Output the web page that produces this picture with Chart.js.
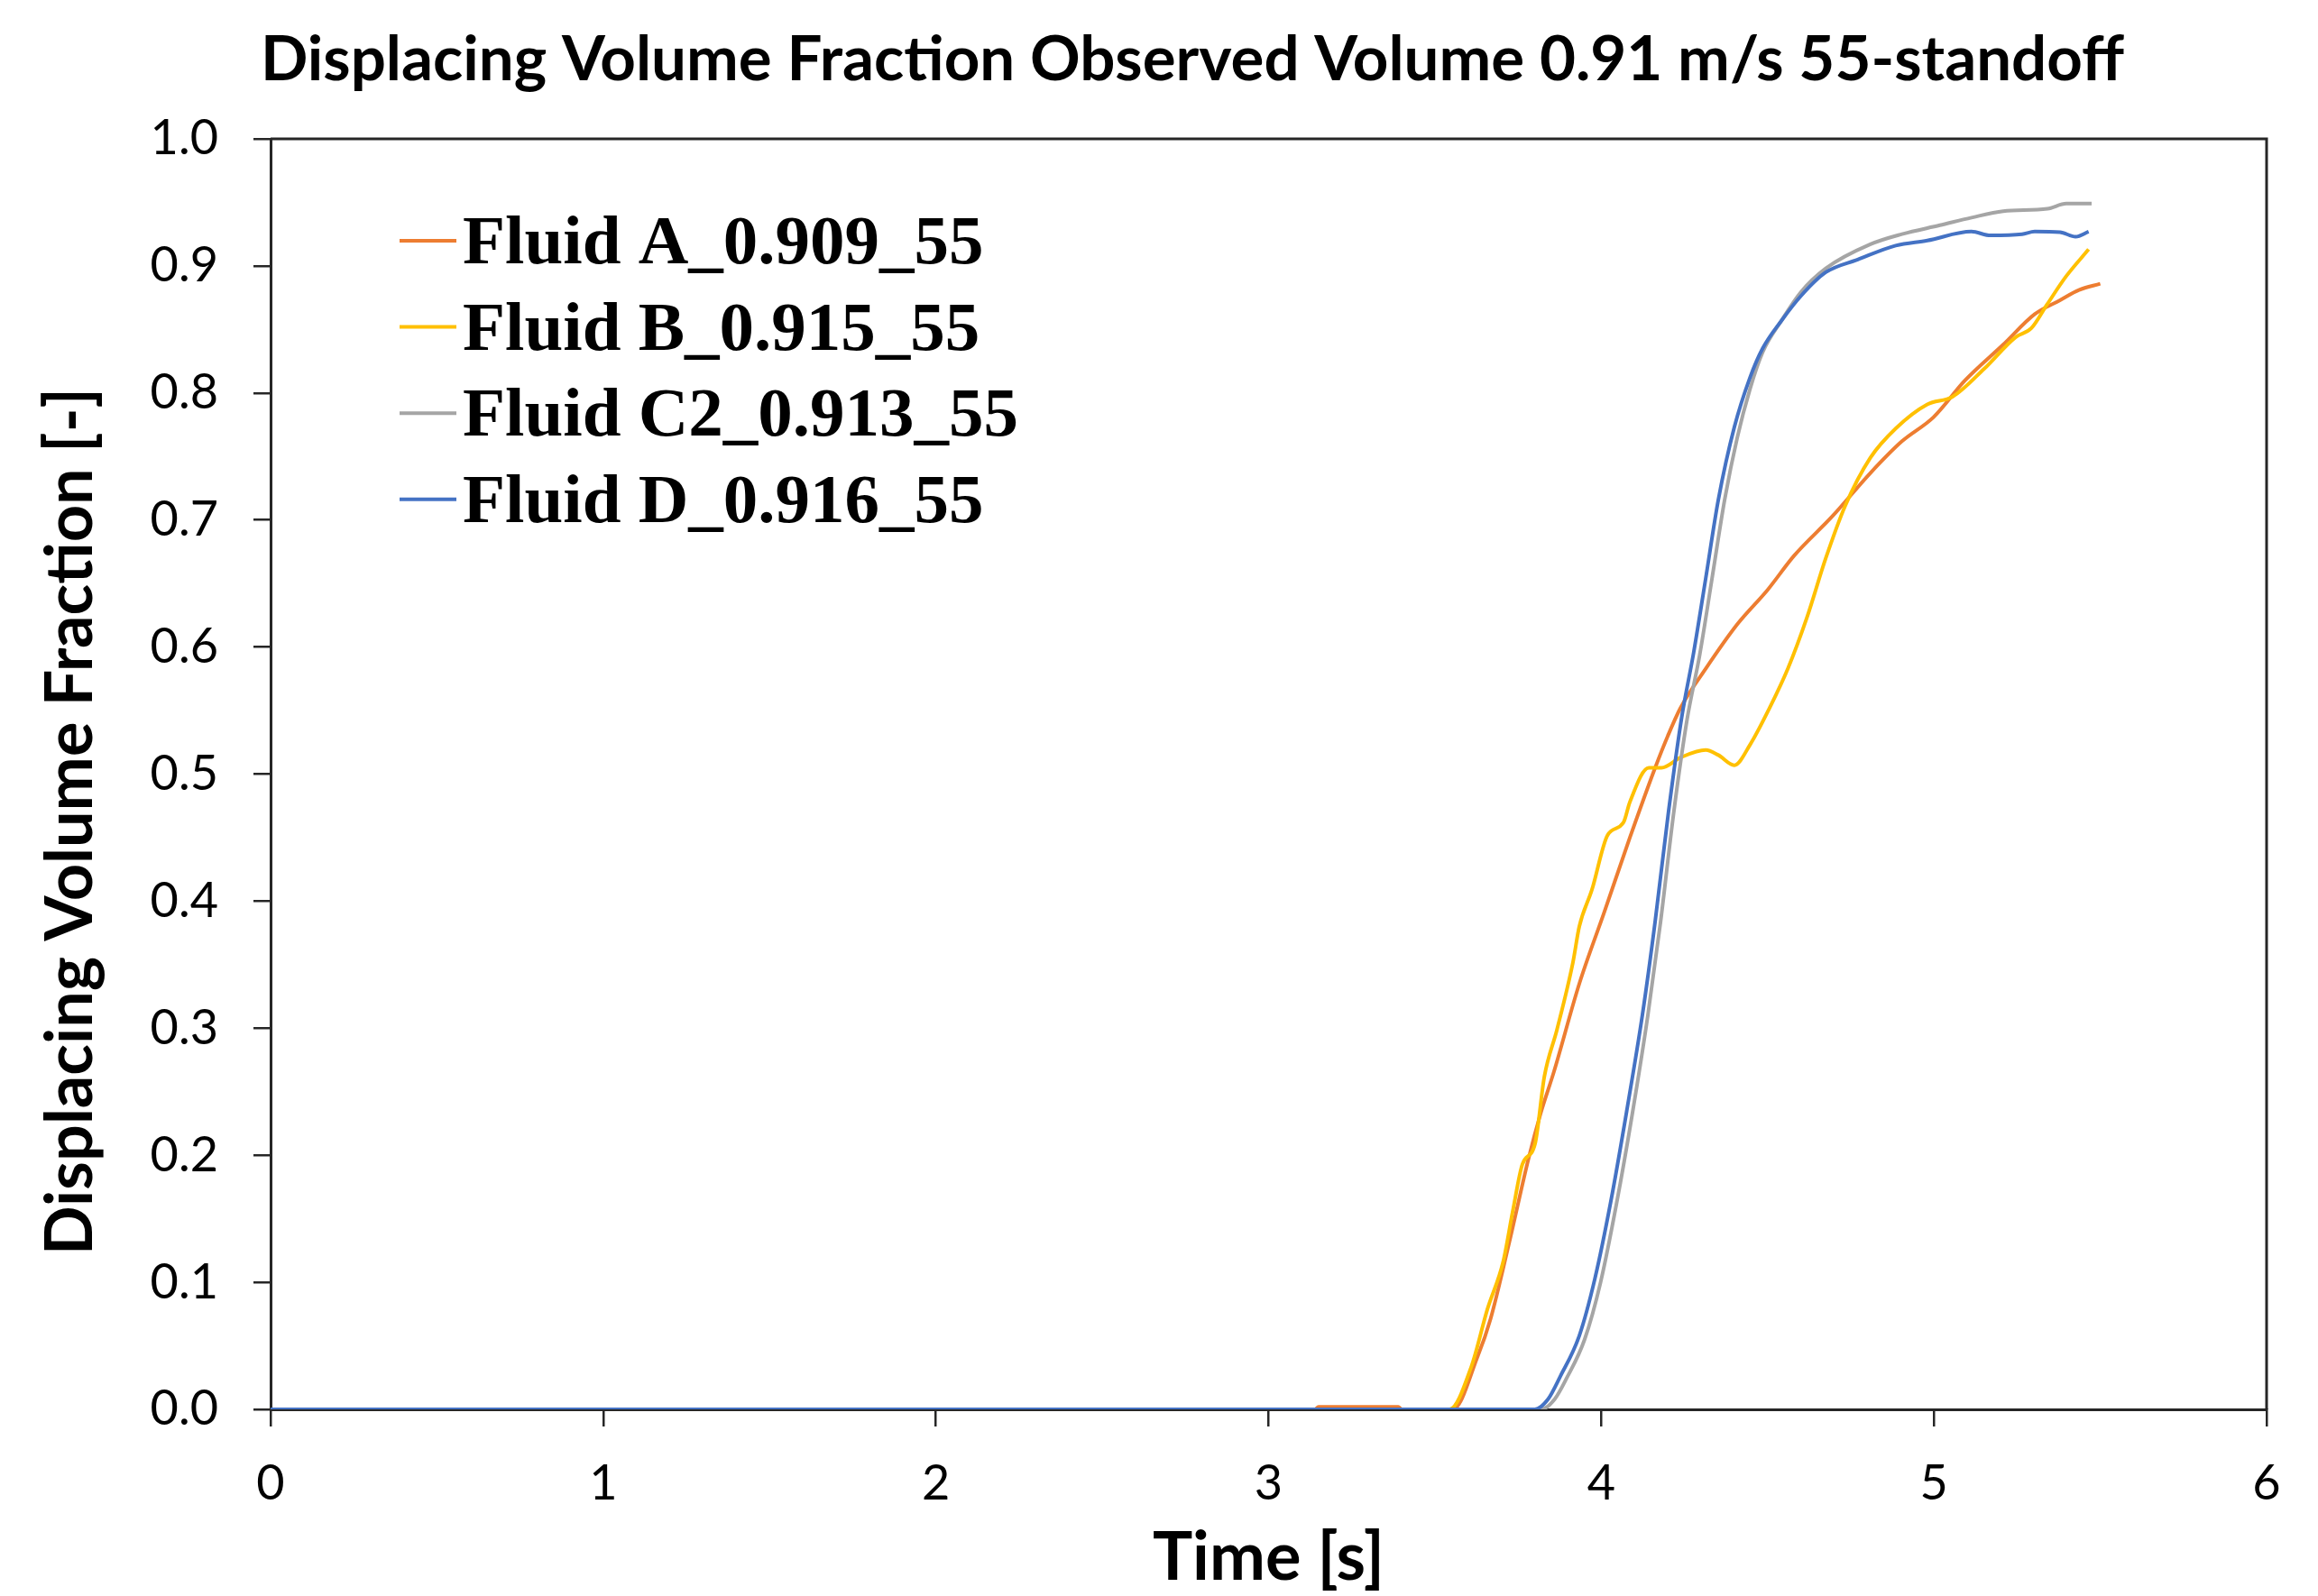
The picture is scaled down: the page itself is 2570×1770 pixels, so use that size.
<!DOCTYPE html>
<html>
<head>
<meta charset="utf-8">
<script src="https://cdn.jsdelivr.net/npm/chart.js@4.4.0/dist/chart.umd.min.js"></script>
<style>
html,body{margin:0;padding:0;background:#fff;}
#wrap{width:2570px;height:1770px;position:relative;background:#fff;}
canvas{display:block;}
</style>
</head>
<body>
<div id="wrap"><canvas id="c" width="2570" height="1770"></canvas></div>
<script>
// ---- text ----
const chartTitle = 'Displacing Volume Fraction Observed Volume 0.91 m/s 55-standoff';
const xAxisTitle = 'Time [s]';
const yAxisTitle = 'Displacing Volume Fraction [-]';
const seriesLabels = ['Fluid A_0.909_55', 'Fluid B_0.915_55', 'Fluid C2_0.913_55', 'Fluid D_0.916_55'];

// ---- axis ticks ----
const xTickValues = [0, 1, 2, 3, 4, 5, 6];
const yTickValues = [0.0, 0.1, 0.2, 0.3, 0.4, 0.5, 0.6, 0.7, 0.8, 0.9, 1.0];

// ---- series data (time [s], displacing volume fraction [-]) ----
const timeA = [0, 3.14, 3.15, 3.39, 3.40, 3.554, 3.629, 3.667, 3.724, 3.781, 3.819, 3.858, 3.934, 4.010, 4.086, 4.162, 4.200, 4.238, 4.314, 4.409, 4.500, 4.580, 4.695, 4.809, 4.904, 4.999, 5.094, 5.208, 5.303, 5.379, 5.436, 5.500];
const fracA = [0, 0, 0.002, 0.002, 0, 0, 0.042, 0.071, 0.132, 0.197, 0.234, 0.266, 0.335, 0.392, 0.450, 0.505, 0.530, 0.552, 0.583, 0.618, 0.645, 0.672, 0.703, 0.737, 0.762, 0.781, 0.810, 0.838, 0.862, 0.873, 0.881, 0.886];

const timeB = [0, 3.544, 3.610, 3.658, 3.705, 3.734, 3.763, 3.801, 3.829, 3.867, 3.915, 3.934, 3.972, 4.019, 4.067, 4.086, 4.143, 4.181, 4.238, 4.314, 4.352, 4.400, 4.447, 4.504, 4.561, 4.618, 4.675, 4.733, 4.809, 4.885, 4.980, 5.056, 5.151, 5.246, 5.293, 5.341, 5.398, 5.465];
const fracB = [0, 0, 0.034, 0.079, 0.116, 0.156, 0.193, 0.209, 0.262, 0.299, 0.352, 0.380, 0.409, 0.452, 0.462, 0.478, 0.505, 0.505, 0.513, 0.519, 0.515, 0.507, 0.523, 0.551, 0.583, 0.623, 0.670, 0.711, 0.749, 0.772, 0.791, 0.797, 0.819, 0.844, 0.851, 0.870, 0.892, 0.913];

const timeC2 = [0, 3.82, 3.86, 3.895, 3.95, 3.998, 4.046, 4.093, 4.140, 4.178, 4.218, 4.258, 4.296, 4.333, 4.371, 4.409, 4.447, 4.485, 4.542, 4.599, 4.675, 4.809, 4.904, 5.018, 5.113, 5.208, 5.341, 5.398, 5.474];
const fracC2 = [0, 0, 0.008, 0.024, 0.055, 0.100, 0.162, 0.232, 0.310, 0.383, 0.470, 0.543, 0.594, 0.654, 0.716, 0.765, 0.803, 0.832, 0.857, 0.879, 0.898, 0.917, 0.925, 0.932, 0.938, 0.943, 0.945, 0.949, 0.949];

const timeD = [0, 3.80, 3.84, 3.877, 3.934, 3.981, 4.029, 4.076, 4.124, 4.162, 4.202, 4.242, 4.278, 4.314, 4.352, 4.400, 4.447, 4.485, 4.542, 4.599, 4.675, 4.771, 4.885, 4.980, 5.113, 5.170, 5.265, 5.303, 5.379, 5.426, 5.465];
const fracD = [0, 0, 0.008, 0.026, 0.058, 0.103, 0.164, 0.234, 0.311, 0.384, 0.470, 0.545, 0.596, 0.654, 0.716, 0.773, 0.812, 0.835, 0.857, 0.876, 0.895, 0.905, 0.916, 0.920, 0.927, 0.924, 0.925, 0.927, 0.9265, 0.923, 0.927];

// ---- styling ----
const seriesColors = ['#ED7D31', '#FFC000', '#A5A5A5', '#4472C4'];
const sansFont = 'Lato';
const axisColor = '#262626';

function toPoints(ts, vs) { return ts.map((t, i) => ({ x: t, y: vs[i] })); }

const seriesTimes = [timeA, timeB, timeC2, timeD];
const seriesFracs = [fracA, fracB, fracC2, fracD];

const datasets = seriesLabels.map((label, i) => ({
  label: label,
  data: toPoints(seriesTimes[i], seriesFracs[i]),
  borderColor: seriesColors[i],
  backgroundColor: seriesColors[i],
  borderWidth: 4,
  pointRadius: 0,
  fill: false,
  cubicInterpolationMode: 'monotone',
  order: seriesLabels.length - i
}));

const titlePlugin = {
  id: 'topTitle',
  afterDraw(chart) {
    const ctx = chart.ctx;
    ctx.save();
    ctx.font = 'bold 69px ' + sansFont;
    ctx.fillStyle = '#000';
    ctx.textAlign = 'center';
    ctx.textBaseline = 'alphabetic';
    ctx.fillText(chartTitle, 1322, 89);
    ctx.restore();
  }
};

const framePlugin = {
  id: 'plotFrame',
  beforeDatasetsDraw(chart) {
    const a = chart.chartArea, ctx = chart.ctx;
    ctx.save();
    ctx.strokeStyle = axisColor;
    ctx.lineWidth = 3;
    ctx.beginPath();
    ctx.moveTo(a.left, a.top);
    ctx.lineTo(a.right, a.top);
    ctx.lineTo(a.right, a.bottom);
    ctx.stroke();
    ctx.restore();
  }
};

const legendPlugin = {
  id: 'insideLegend',
  afterDraw(chart) {
    const ctx = chart.ctx, a = chart.chartArea;
    ctx.save();
    ctx.font = 'bold 77px "Liberation Serif", "Times New Roman", serif';
    ctx.textAlign = 'left';
    ctx.textBaseline = 'alphabetic';
    chart.data.datasets.forEach((ds, i) => {
      const y = a.top + 113 + i * 95.6;
      ctx.strokeStyle = ds.borderColor;
      ctx.lineWidth = 4;
      ctx.beginPath();
      ctx.moveTo(a.left + 143, y);
      ctx.lineTo(a.left + 206, y);
      ctx.stroke();
      ctx.fillStyle = '#000';
      ctx.fillText(ds.label, a.left + 213, y + 25);
    });
    ctx.restore();
  }
};

new Chart(document.getElementById('c'), {
  type: 'line',
  data: { datasets: datasets },
  plugins: [titlePlugin, framePlugin, legendPlugin],
  options: {
    responsive: false,
    animation: false,
    devicePixelRatio: 1,
    layout: { padding: { top: 154, right: 57, bottom: 0, left: 0 } },
    plugins: {
      legend: { display: false },
      title: { display: false },
      tooltip: { enabled: false }
    },
    scales: {
      x: {
        type: 'linear',
        min: xTickValues[0],
        max: xTickValues[xTickValues.length - 1],
        afterBuildTicks: s => { s.ticks = xTickValues.map(v => ({ value: v })); },
        afterFit: s => { s.height = 207; },
        ticks: {
          color: '#000',
          font: { family: sansFont, size: 54 },
          padding: 31,
          maxRotation: 0,
          autoSkip: false,
          callback: v => String(v)
        },
        grid: { display: true, drawOnChartArea: false, drawTicks: true, tickLength: 19, color: axisColor, lineWidth: 2.5 },
        border: { display: true, color: axisColor, width: 3 },
        title: {
          display: true,
          text: xAxisTitle,
          color: '#000',
          font: { family: sansFont, size: 74, weight: 'bold' },
          padding: { top: 0, bottom: -3 }
        }
      },
      y: {
        type: 'linear',
        min: yTickValues[0],
        max: yTickValues[yTickValues.length - 1],
        afterBuildTicks: s => { s.ticks = yTickValues.map(v => ({ value: v })); },
        afterFit: s => { s.width = 300; },
        ticks: {
          color: '#000',
          font: { family: sansFont, size: 54 },
          padding: 39,
          autoSkip: false,
          callback: v => Number(v).toFixed(1)
        },
        grid: { display: true, drawOnChartArea: false, drawTicks: true, tickLength: 19, color: axisColor, lineWidth: 2.5 },
        border: { display: true, color: axisColor, width: 3 },
        title: {
          display: true,
          text: yAxisTitle + '      ',
          color: '#000',
          font: { family: sansFont, size: 72, weight: 'bold' },
          padding: { top: 36, bottom: 0 }
        }
      }
    }
  }
});
</script>
</body>
</html>
